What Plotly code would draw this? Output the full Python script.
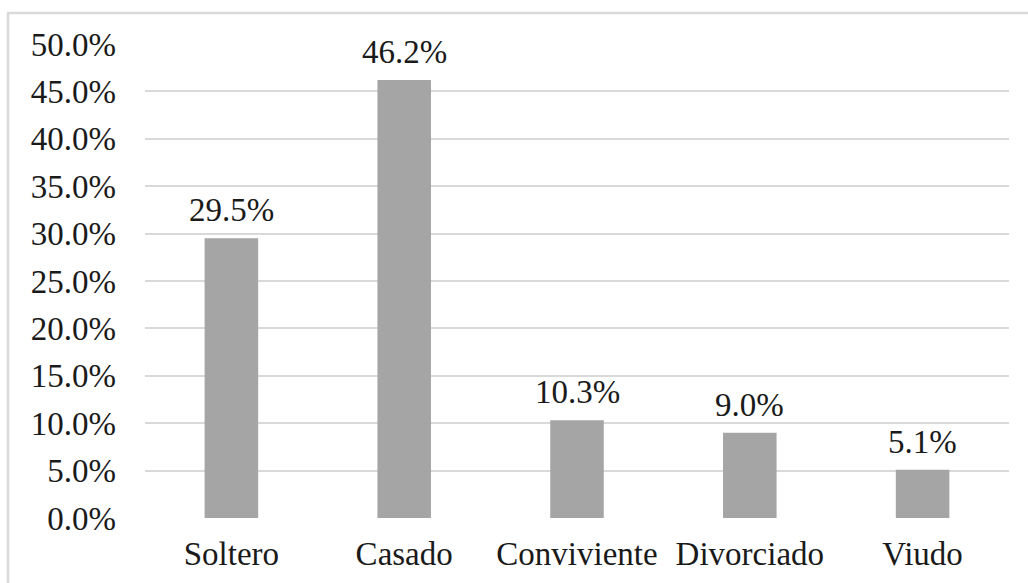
import plotly.graph_objects as go

categories = ["Soltero", "Casado", "Conviviente", "Divorciado", "Viudo"]
values = [29.5, 46.2, 10.3, 9.0, 5.1]
labels = ["29.5%", "46.2%", "10.3%", "9.0%", "5.1%"]
tick_vals = [0, 5, 10, 15, 20, 25, 30, 35, 40, 45, 50]
tick_text = ["0.0%", "5.0%", "10.0%", "15.0%", "20.0%", "25.0%", "30.0%", "35.0%", "40.0%", "45.0%", "50.0%"]

FONT = "Liberation Serif, Times New Roman, serif"
FS = 33
W, H = 1028, 583
ML, MR, MT, MB = 145, 19, 44, 65
pw = W - ML - MR
ph = H - MT - MB

fig = go.Figure()
fig.add_trace(go.Bar(
    x=categories, y=values,
    marker=dict(color="#a5a5a5", line=dict(width=0)),
    width=0.31,
    hoverinfo="skip",
))

for c, v, t in zip(categories, values, labels):
    fig.add_annotation(x=c, y=v, text=t, showarrow=False, yanchor="bottom",
                       yshift=8, font=dict(family=FONT, size=FS, color="#1a1a1a"))

# outer light border (left and top visible)
x0 = (8 - ML) / pw
y1 = (H - MB - 13) / ph
fig.add_shape(type="rect", xref="paper", yref="paper",
              x0=x0, x1=(W + 20 - ML) / pw, y0=-(MB + 20) / ph, y1=y1,
              line=dict(color="#d9d9d9", width=2.5), fillcolor="rgba(0,0,0,0)", layer="below")

fig.update_layout(
    width=W, height=H,
    margin=dict(l=ML, r=MR, t=MT, b=MB, pad=0, autoexpand=False),
    paper_bgcolor="white", plot_bgcolor="white",
    showlegend=False,
    font=dict(family=FONT, size=FS, color="#1a1a1a"),
    xaxis=dict(showgrid=False, zeroline=False, showline=False, ticks="",
               automargin=False,
               tickfont=dict(family=FONT, size=FS, color="#1a1a1a"),
               ticklabelstandoff=13, fixedrange=True),
    yaxis=dict(range=[0, 50], tickvals=tick_vals, ticktext=tick_text,
               automargin=False,
               showgrid=True, gridcolor="#d9d9d9", gridwidth=2,
               zeroline=False, showline=False, ticks="",
               tickfont=dict(family=FONT, size=FS, color="#1a1a1a"),
               ticklabelstandoff=28, fixedrange=True),
)

fig.write_html("out.html", config={"displayModeBar": False},
               post_script="document.body.style.margin='0px';document.body.style.overflow='hidden';")
